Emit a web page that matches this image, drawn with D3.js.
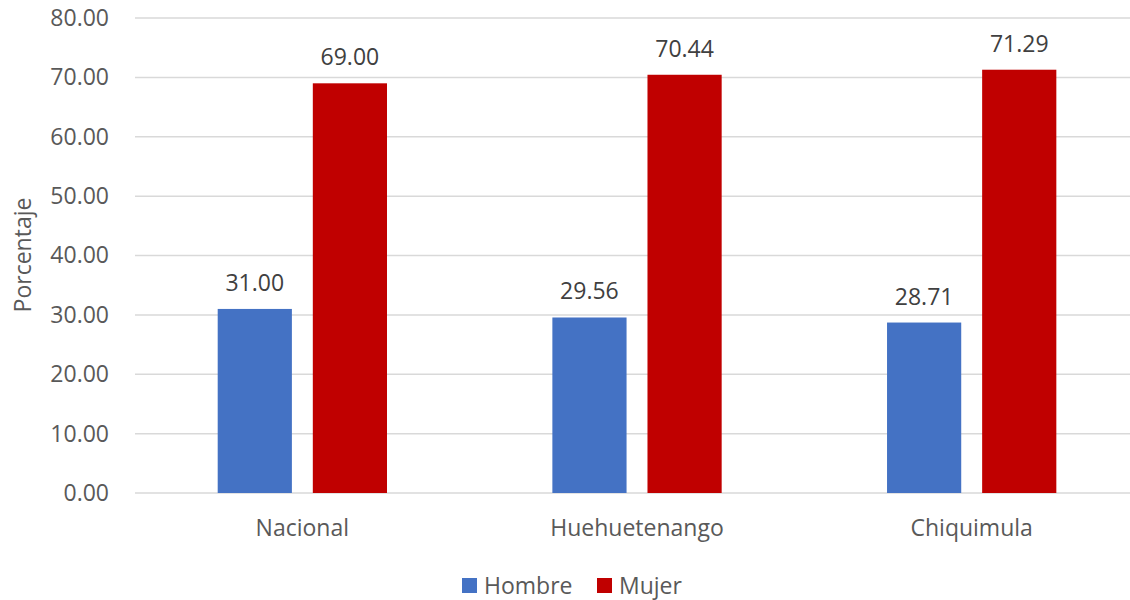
<!DOCTYPE html>
<html><head><meta charset="utf-8">
<script src="https://cdn.jsdelivr.net/npm/d3@7"></script>
<style>body{margin:0;background:#fff;}svg{display:block;font-family:"Open Sans",sans-serif;}</style>
</head><body><svg id="c" width="1130" height="600"></svg>
<script>
const categories = ["Nacional", "Huehuetenango", "Chiquimula"];
const seriesNames = ["Hombre", "Mujer"];
const hombre = [31.00, 29.56, 28.71];
const mujer = [69.00, 70.44, 71.29];
const yTicks = [0, 10, 20, 30, 40, 50, 60, 70, 80];
const colors = ["#4472C4", "#C00000"];

(function () {
const svg = d3.select("#c");
const pLeft = 135, pRight = 1139, pTop = 18, pBottom = 493;
const fs = 23;
const x0 = d3.scaleBand().domain(categories).range([pLeft, pRight]).padding(0);
const x1 = d3.scaleBand().domain(seriesNames).range([82.7, 252]).paddingInner(0.22).paddingOuter(0);
const y = d3.scaleLinear().domain([0, 80]).range([pBottom, pTop]);

svg.append("g").selectAll("line").data(yTicks).join("line")
  .attr("x1", pLeft).attr("x2", 1130)
  .attr("y1", d => y(d)).attr("y2", d => y(d))
  .attr("stroke", "#d9d9d9").attr("stroke-width", 1.5);

const yAxis = d3.axisLeft(y).tickValues(yTicks).tickFormat(d3.format(".2f")).tickSize(0).tickPadding(0);
const ya = svg.append("g").attr("transform", `translate(${pLeft - 26},0)`).call(yAxis);
ya.select(".domain").remove();
ya.selectAll("text").attr("font-family", "Open Sans").attr("font-size", fs).attr("fill", "#595959");

const xAxis = d3.axisBottom(x0).tickSize(0).tickPadding(0);
const xa = svg.append("g").attr("transform", `translate(0,${pBottom + 27})`).call(xAxis);
xa.select(".domain").remove();
xa.selectAll("text").attr("font-family", "Open Sans").attr("font-size", fs).attr("fill", "#595959");

const data = categories.map((c, i) => ({cat: c, vals: [hombre[i], mujer[i]]}));
const groups = svg.append("g").selectAll("g").data(data).join("g")
  .attr("transform", d => `translate(${x0(d.cat)},0)`);
groups.selectAll("rect").data(d => d.vals.map((v, j) => ({s: seriesNames[j], v, j}))).join("rect")
  .attr("x", d => x1(d.s)).attr("width", x1.bandwidth())
  .attr("y", d => y(d.v)).attr("height", d => y(0) - y(d.v))
  .attr("fill", d => colors[d.j]);
groups.selectAll("text.v").data(d => d.vals.map((v, j) => ({s: seriesNames[j], v, j}))).join("text")
  .attr("class", "v")
  .attr("x", d => x1(d.s) + x1.bandwidth() / 2)
  .attr("y", d => y(d.v) - 18)
  .attr("text-anchor", "middle")
  .attr("font-size", fs).attr("fill", "#404040")
  .text(d => d3.format(".2f")(d.v));

svg.append("text").attr("transform", "translate(31,255) rotate(-90)")
  .attr("text-anchor", "middle").attr("font-size", fs).attr("fill", "#595959").text("Porcentaje");

const lg = svg.append("g");
const legX = [462, 597];
seriesNames.forEach((s, i) => {
  lg.append("rect").attr("x", legX[i]).attr("y", 578).attr("width", 15).attr("height", 15).attr("fill", colors[i]);
  lg.append("text").attr("x", legX[i] + 22).attr("y", 594).attr("font-size", fs).attr("fill", "#595959").text(s);
});
})();
</script></body></html>
